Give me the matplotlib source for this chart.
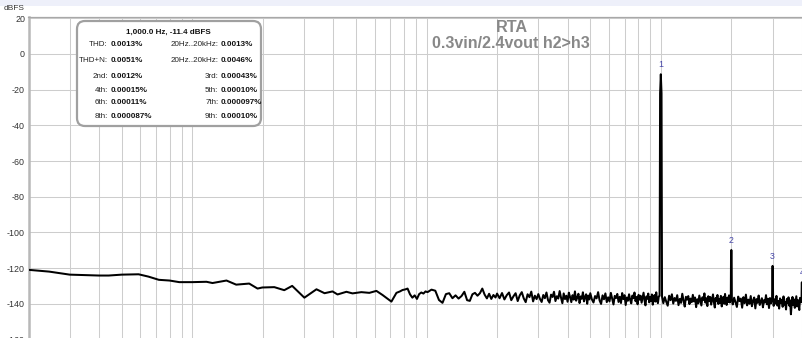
import numpy as np
import matplotlib
matplotlib.use("Agg")
import matplotlib.pyplot as plt
from matplotlib.patches import FancyBboxPatch, Rectangle
from matplotlib.ticker import FixedLocator, NullFormatter
from matplotlib.transforms import IdentityTransform

plt.rcParams['font.family'] = ['Liberation Sans', 'DejaVu Sans']
plt.rcParams['axes.unicode_minus'] = False

# ---------------- data ----------------
lf_freqs = [2.0, 2.45, 3.0, 4.0, 4.4, 5.0, 5.9, 6.5, 7.2, 8.0,
            8.8, 10.0, 11.5, 12.2, 14.0, 15.4, 17.5, 19.0, 19.9, 22.4,
            24.7, 26.7, 30.1, 33.9, 36.7, 39.7, 41.7, 45.5, 48.3, 52.7,
            57.0, 61.1, 64.9, 70.8, 74.4]
lf_levels = [-120.9, -121.9, -123.6, -124.1, -124.1, -123.6, -123.4, -124.7, -126.5, -126.9,
             -127.8, -127.8, -127.6, -128.3, -126.9, -129.2, -128.6, -131.4, -130.8, -130.6,
             -132.3, -129.9, -136.5, -131.8, -134.0, -133.0, -134.7, -133.2, -134.1, -133.4,
             -133.8, -132.7, -135.0, -138.7, -133.8]

nb_freqs = [77, 79, 81, 83, 85, 87, 89, 91, 93, 95, 97, 99]
nb_levels = [-133.0, -132.2, -131.9, -131.4, -134.6, -136.5, -135.2, -137.2, -134.5, -133.6, -134.2, -133.0]

nc_freqs = [101, 105, 109, 113, 117, 121, 125, 129, 133, 137, 141, 145, 149, 153, 157,
            161, 165, 169, 173, 177, 181, 185, 189, 193, 197]
nc_levels = [-133.4, -132.0, -132.6, -137.8, -139.4, -134.5, -134.0, -136.8, -135.2, -137.0,
             -135.6, -133.2, -137.9, -138.3, -134.6, -133.8, -135.4, -134.0, -131.4, -134.8,
             -136.9, -134.3, -137.2, -135.0, -136.4]

nd_freqs = [200, 205, 210, 215, 220, 225, 230, 235, 240, 245,
            250, 255, 260, 265, 270, 275, 280, 285, 290, 295]
nd_levels = [-134.2, -136.8, -133.9, -137.5, -135.1, -133.6, -137.9, -135.7, -134.0, -138.4,
             -135.2, -133.4, -136.9, -139.0, -134.6, -136.2, -133.1, -138.6, -135.4, -137.3]

ne_freqs = [300, 305, 310, 315, 320, 325, 330, 335, 340, 345, 350, 355, 360, 365, 370, 375,
            380, 385, 390, 395, 400, 405, 410, 415, 420, 425, 430, 435, 440, 445, 450, 455,
            460, 465, 470, 475, 480, 485, 490, 495]
ne_levels = [-134.5, -137.2, -138.9, -135.0, -136.8, -133.6, -137.9, -139.3, -134.8, -136.1,
             -133.2, -138.4, -135.7, -137.0, -132.8, -136.5, -139.6, -134.1, -137.3, -135.4,
             -138.8, -133.7, -136.2, -139.0, -135.1, -137.6, -133.0, -138.2, -136.4, -134.3,
             -139.5, -135.8, -137.1, -133.5, -138.6, -136.0, -134.6, -139.9, -135.3, -137.5]

nf_freqs = [500, 508, 516, 524, 532, 540, 548, 556, 564, 572, 580, 588, 596, 604, 612, 620,
            628, 636, 644, 652, 660, 668, 676, 684, 692, 700, 708, 716, 724, 732, 740, 748,
            756, 764, 772, 780, 788, 796, 804, 812, 820, 828, 836, 844, 852, 860, 868, 876,
            884, 892, 900, 908, 916, 924, 932, 940, 948, 956, 964, 972, 980]
nf_levels = [-134.0, -137.5, -139.2, -135.6, -136.9, -133.4, -138.1, -140.0, -135.2, -137.4,
             -134.1, -139.0, -136.3, -138.6, -133.8, -137.0, -140.3, -135.5, -136.7, -134.4,
             -138.9, -136.0, -139.5, -133.9, -137.3, -135.1, -140.6, -136.4, -138.2, -134.6,
             -137.8, -139.7, -135.3, -136.8, -133.6, -138.5, -136.1, -140.2, -134.9, -137.6,
             -135.4, -139.3, -136.6, -133.7, -138.0, -140.8, -135.8, -137.1, -134.2, -139.1,
             -136.2, -138.4, -134.7, -140.4, -136.9, -135.0, -138.7, -133.5, -137.7, -139.6,
             -135.9]

ng_freqs = [1025, 1040, 1055, 1070, 1085, 1100, 1115, 1130, 1145, 1160, 1175, 1190, 1205,
            1220, 1235, 1250, 1265, 1280, 1295, 1310, 1325, 1340, 1355, 1370, 1385, 1400,
            1415, 1430, 1445, 1460, 1475, 1490, 1505, 1520, 1535, 1550, 1565, 1580, 1595,
            1610, 1625, 1640, 1655, 1670, 1685, 1700, 1715, 1730, 1745, 1760, 1775, 1790,
            1805, 1820, 1835, 1850, 1865, 1880, 1895, 1910, 1925, 1940, 1955, 1970]
ng_levels = [-139.6, -136.2, -138.8, -141.0, -135.4, -137.9, -134.6, -139.8, -136.7, -138.3,
             -135.1, -140.7, -137.2, -139.4, -134.3, -138.1, -141.5, -136.0, -137.6, -135.6,
             -140.1, -137.0, -139.0, -134.9, -138.6, -136.4, -141.8, -137.4, -139.7, -135.3,
             -138.0, -140.9, -136.3, -137.8, -134.1, -139.3, -136.8, -141.2, -135.7, -138.4,
             -136.1, -140.4, -137.5, -134.7, -139.1, -142.0, -136.6, -138.2, -135.0, -140.0,
             -137.1, -139.5, -135.5, -141.4, -137.7, -136.0, -139.9, -134.4, -138.7, -140.6,
             -136.5, -138.9, -135.2, -139.2]

nh_freqs = [2028, 2056, 2084, 2112, 2140, 2168, 2196, 2224, 2252, 2280, 2308, 2336, 2364,
            2392, 2420, 2448, 2476, 2504, 2532, 2560, 2588, 2616, 2644, 2672, 2700, 2728,
            2756, 2784, 2812, 2840, 2868, 2896, 2924, 2952]
nh_levels = [-140.3, -136.5, -139.1, -141.7, -135.9, -138.4, -137.0, -142.1, -136.2, -139.6,
             -134.8, -140.8, -137.6, -139.9, -135.6, -141.3, -138.1, -136.4, -142.5, -137.3,
             -139.4, -135.3, -140.6, -138.6, -136.8, -141.9, -137.9, -139.2, -135.1, -140.2,
             -137.1, -142.3, -136.7, -139.7]

ni_freqs = [3032, 3060, 3088, 3116, 3144, 3172, 3200, 3228, 3256, 3284, 3312, 3340, 3368,
            3396, 3424, 3452, 3480, 3508, 3536, 3564, 3592, 3620, 3648, 3676, 3704, 3732,
            3760, 3788, 3816, 3844, 3872, 3900, 3928, 3956]
ni_levels = [-141.1, -137.4, -139.8, -135.5, -140.9, -138.3, -142.6, -136.9, -139.3, -137.7,
             -141.6, -135.8, -140.4, -138.8, -143.1, -137.2, -139.5, -136.3, -141.0, -138.0,
             -145.8, -139.9, -136.1, -140.7, -137.5, -142.2, -138.9, -135.7, -141.4, -137.8,
             -140.1, -143.4, -136.6, -139.0]

# skirts of the harmonic peaks (bins either side of each peak)
skirt_freqs = [988, 993, 1007, 1012,
               1990, 1994, 2006, 2010,
               2968, 2985, 2992, 3008, 3015,
               3975, 3988, 3994, 4006, 4012, 4030, 4045]
skirt_levels = [-135.5, -22.0, -22.0, -136.0,
                -137.0, -112.0, -112.0, -137.5,
                -138.2, -137.0, -121.0, -121.0, -137.4,
                -139.0, -138.0, -130.0, -130.0, -138.4, -137.2, -140.0]

harm_numbers = ['1', '2', '3', '4']
harm_freqs = [1000, 2000, 3000, 4000]
harm_levels = [-11.4, -109.8, -118.7, -127.9]

y_ticks = [-160, -140, -120, -100, -80, -60, -40, -20, 0, 20]

title_lines = ['RTA', '0.3vin/2.4vout h2>h3']
info_header = '1,000.0 Hz, -11.4 dBFS'
info_left_labels = ['THD:', 'THD+N:', '2nd:', '4th:', '6th:', '8th:']
info_left_values = ['0.0013%', '0.0051%', '0.0012%', '0.00015%', '0.00011%', '0.000087%']
info_right_labels = ['20Hz..20kHz:', '20Hz..20kHz:', '3rd:', '5th:', '7th:', '9th:']
info_right_values = ['0.0013%', '0.0046%', '0.00043%', '0.00010%', '0.000097%', '0.00010%']

# ---------------- figure ----------------
W, H = 803, 338
fig = plt.figure(figsize=(W / 100, H / 100), dpi=100)
fig.patch.set_facecolor('white')
fig.add_artist(Rectangle((0, 1 - 6 / H), 1, 6 / H, transform=fig.transFigure,
                         facecolor='#eef0fa', edgecolor='none', zorder=0))


def px_axes(l, t, r, b):
    return [l / W, 1 - b / H, (r - l) / W, (b - t) / H]


ax = fig.add_axes(px_axes(28.5, 16.5, 803, 350))
ax.set_xscale('log')
ax.set_xlim(2.0, 4045)
ax.set_ylim(-165.8, 20.95)
ax.set_facecolor('white')

grid_freqs = [m * 10 ** k for k in range(0, 4) for m in range(1, 10)]
ax.xaxis.set_major_locator(FixedLocator(grid_freqs))
ax.xaxis.set_minor_locator(FixedLocator([]))
ax.xaxis.set_major_formatter(NullFormatter())
ax.yaxis.set_major_locator(FixedLocator(y_ticks))
ax.set_yticklabels([str(v) for v in y_ticks])
ax.tick_params(axis='both', length=0)
ax.tick_params(axis='y', pad=2.5, labelsize=6.4, labelcolor='#333333')
ax.grid(True, which='major', color='#cdcdcd', linewidth=0.75)
ax.set_axisbelow(True)
for s in ['right', 'bottom']:
    ax.spines[s].set_visible(False)
ax.spines['left'].set_color('#b8b8b8')
ax.spines['left'].set_linewidth(1.8)
ax.spines['top'].set_color('#a8a8a8')
ax.spines['top'].set_linewidth(0.9)

# trace
freqs = (lf_freqs + nb_freqs + nc_freqs + nd_freqs + ne_freqs + nf_freqs + ng_freqs
         + nh_freqs + ni_freqs + skirt_freqs + harm_freqs)
levels = (lf_levels + nb_levels + nc_levels + nd_levels + ne_levels + nf_levels + ng_levels
          + nh_levels + ni_levels + skirt_levels + harm_levels)
order = np.argsort(freqs)
f_arr = np.array(freqs, dtype=float)[order]
l_arr = np.array(levels, dtype=float)[order]
ax.plot(f_arr, l_arr, color='black', linewidth=1.45, zorder=3)

for n, f, l in zip(harm_numbers, harm_freqs, harm_levels):
    ax.annotate(n, (f, l), xytext=(0, 3.5), textcoords='offset points',
                ha='center', va='bottom', fontsize=6.3, color='#4646a8', zorder=4)

# labels
fig.text(4 / W, 1 - 8.5 / H, 'dBFS', fontsize=6, color='#333333', ha='left', va='center')
fig.text(512 / W, 1 - 27.5 / H, title_lines[0], fontsize=11.7, fontweight='bold',
         color='#888888', ha='center', va='center')
fig.text(511 / W, 1 - 43.5 / H, title_lines[1], fontsize=11.5, fontweight='bold',
         color='#888888', ha='center', va='center')

# info box
box = FancyBboxPatch((77, H - 126), 184, 105, boxstyle='round,pad=0,rounding_size=8',
                     transform=IdentityTransform(), facecolor='white',
                     edgecolor='#a0a0a0', linewidth=1.6, zorder=5)
fig.add_artist(box)
fig.text(168 / W, 1 - 32 / H, info_header, fontsize=5.8, fontweight='bold',
         color='#111111', ha='center', va='center', zorder=6)
row_y = [44, 61, 76, 90, 103, 117]
for i, y in enumerate(row_y):
    fig.text(108 / W, 1 - y / H, info_left_labels[i], fontsize=5.8, color='#222222',
             ha='right', va='center', zorder=6)
    fig.text(110.5 / W, 1 - y / H, info_left_values[i], fontsize=5.8, fontweight='bold',
             color='#111111', ha='left', va='center', zorder=6)
    fig.text(218.5 / W, 1 - y / H, info_right_labels[i], fontsize=5.8, color='#222222',
             ha='right', va='center', zorder=6)
    fig.text(221 / W, 1 - y / H, info_right_values[i], fontsize=5.8, fontweight='bold',
             color='#111111', ha='left', va='center', zorder=6)

fig.savefig('out.png', dpi=100)
